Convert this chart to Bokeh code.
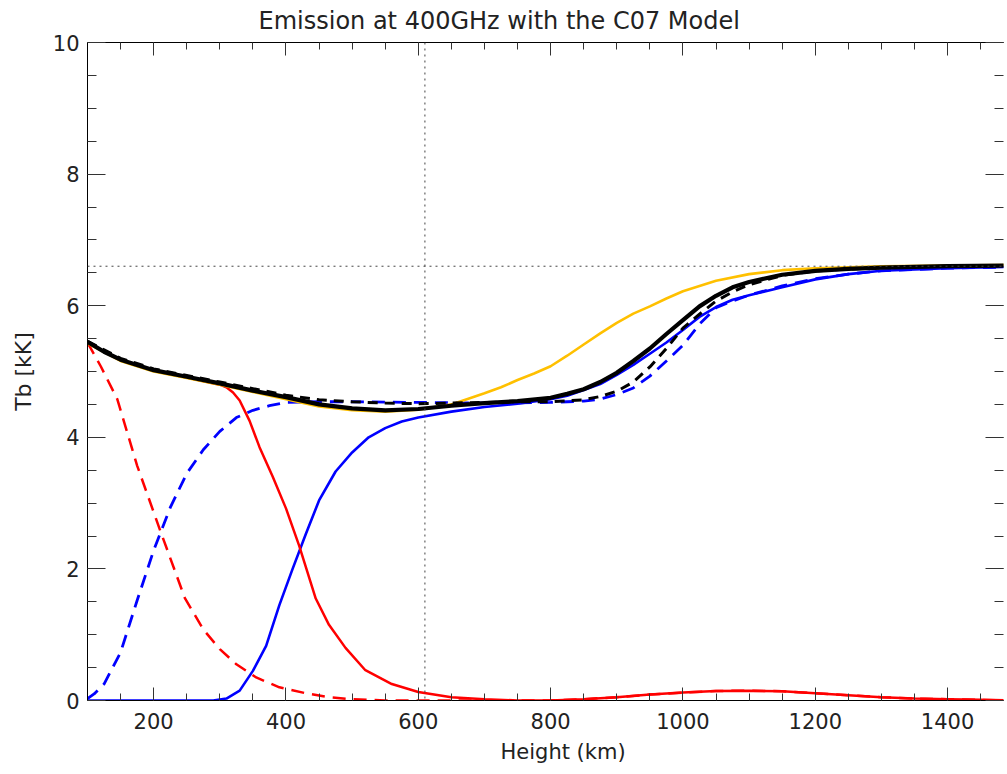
from bokeh.plotting import figure
from bokeh.models import LinearAxis, SingleIntervalTicker, Span, Title, CustomLabelingPolicy
from bokeh.embed import file_html
from bokeh.resources import INLINE

# ---- data ----
x_black_solid = [100,125,150,200,250,300,350,400,450,500,550,600,650,700,750,800,825,850,875,900,925,950,975,1000,1025,1050,1075,1100,1150,1200,1250,1300,1400,1500]
y_black_solid = [5.45,5.30,5.18,5.02,4.92,4.82,4.71,4.61,4.50,4.44,4.41,4.43,4.48,4.52,4.55,4.60,4.66,4.73,4.84,4.98,5.16,5.35,5.57,5.78,5.99,6.15,6.28,6.36,6.47,6.53,6.56,6.58,6.60,6.61]

x_black_dash = [100,150,200,250,300,350,400,450,500,550,600,650,700,750,800,850,875,900,925,950,975,1000,1025,1050,1075,1100,1150,1200,1300,1400,1500]
y_black_dash = [5.46,5.20,5.04,4.94,4.84,4.74,4.64,4.57,4.54,4.52,4.51,4.52,4.53,4.54,4.54,4.57,4.62,4.70,4.84,5.07,5.35,5.66,5.87,6.07,6.21,6.32,6.46,6.53,6.58,6.60,6.61]

x_orange = [100,150,200,250,300,350,400,450,500,550,600,650,700,725,750,775,800,825,850,875,900,925,950,975,1000,1050,1100,1150,1200,1300,1400,1500]
y_orange = [5.43,5.16,5.00,4.90,4.80,4.69,4.58,4.47,4.41,4.39,4.42,4.50,4.67,4.76,4.87,4.97,5.08,5.24,5.41,5.58,5.74,5.88,5.99,6.11,6.22,6.38,6.48,6.54,6.57,6.60,6.61,6.62]

x_blue_solid = [100,150,200,250,290,310,330,350,370,390,410,430,450,475,500,525,550,575,600,650,700,750,800,825,850,875,900,925,950,975,1000,1025,1050,1075,1100,1150,1200,1250,1300,1400,1500]
y_blue_solid = [0,0,0,0,0,0.03,0.15,0.45,0.83,1.45,2.00,2.53,3.04,3.48,3.77,4.00,4.14,4.24,4.30,4.39,4.46,4.51,4.58,4.63,4.72,4.81,4.95,5.10,5.27,5.44,5.63,5.83,5.98,6.09,6.16,6.28,6.40,6.48,6.53,6.57,6.59]

x_blue_dash = [100,110,125,150,175,200,225,250,275,300,325,350,375,400,450,500,600,700,800,850,875,900,925,950,975,1000,1025,1050,1075,1100,1150,1200,1250,1300,1400,1500]
y_blue_dash = [0.03,0.10,0.25,0.73,1.52,2.28,2.93,3.45,3.81,4.09,4.30,4.41,4.48,4.53,4.54,4.54,4.53,4.52,4.53,4.55,4.58,4.65,4.75,4.93,5.16,5.40,5.72,5.97,6.07,6.16,6.30,6.41,6.48,6.53,6.57,6.59]

x_red_solid = [100,150,200,250,300,310,320,330,345,360,380,400,420,445,465,490,520,560,600,650,700,750,800,850,900,950,1000,1050,1100,1150,1200,1250,1300,1350,1400,1450,1500]
y_red_solid = [5.44,5.17,5.01,4.91,4.80,4.76,4.68,4.56,4.25,3.85,3.40,2.92,2.35,1.55,1.15,0.80,0.46,0.25,0.13,0.05,0.02,0.0,0.0,0.02,0.05,0.09,0.12,0.145,0.15,0.14,0.11,0.08,0.05,0.03,0.02,0.01,0.0]

x_red_dash = [100,120,145,175,210,247,275,300,325,355,390,430,465,500,550,600,700,800,850,900,950,1000,1050,1100,1150,1200,1250,1300,1350,1400,1450,1500]
y_red_dash = [5.44,5.08,4.58,3.57,2.58,1.56,1.08,0.78,0.55,0.35,0.20,0.11,0.05,0.02,0.0,0.0,0.0,0.0,0.02,0.05,0.09,0.12,0.145,0.15,0.14,0.11,0.08,0.05,0.03,0.02,0.01,0.0]

v_line_height = 610
h_line_tb = 6.6

FONT = "DejaVu Sans"
TXT = "#222222"

p = figure(width=1007, height=774, x_range=(100, 1484.5), y_range=(0, 10),
           output_backend="svg", toolbar_location=None,
           min_border_left=87, min_border_right=0, min_border_top=40, min_border_bottom=74,
           y_axis_label="Tb [kK]")
p.outline_line_color = None
p.grid.visible = False
p.background_fill_color = "white"
p.border_fill_color = "white"

p.title.text = "Emission at 400GHz with the C07 Model"
p.title.align = "left"
p.title.offset = 171
p.title.standoff = 8
p.title.text_font = FONT
p.title.text_font_size = "24px"
p.title.text_font_style = "normal"
p.title.text_color = TXT

xt = SingleIntervalTicker(interval=200, num_minor_ticks=4)
yt = SingleIntervalTicker(interval=2, num_minor_ticks=4)

hide_labels = CustomLabelingPolicy(code="""
const all = [...indices];
for (const i of all) indices.unset(i);
return indices;
""")

def style_axis(ax, tin, tmin, labels=True):
    ax.axis_line_color = "black"
    ax.axis_line_width = 1
    ax.major_tick_in = tin
    ax.major_tick_out = 0
    ax.minor_tick_in = tmin
    ax.minor_tick_out = 0
    ax.major_tick_line_color = "#333333"
    ax.minor_tick_line_color = "#333333"
    if labels:
        ax.major_label_text_font = FONT
        ax.major_label_text_font_size = "21px"
        ax.major_label_text_color = TXT
        ax.axis_label_text_font = FONT
        ax.axis_label_text_font_size = "21px"
        ax.axis_label_text_font_style = "normal"
        ax.axis_label_text_color = TXT
    else:
        ax.major_label_policy = hide_labels
        ax.major_label_text_font_size = "1px"
        ax.major_label_standoff = 0
        ax.axis_label = None

p.xaxis.ticker = xt
p.yaxis.ticker = yt
style_axis(p.xaxis[0], 13, 7)
style_axis(p.yaxis[0], 18, 9)
p.xaxis[0].major_label_standoff = 12
p.yaxis[0].major_label_standoff = 8
p.yaxis[0].axis_label_standoff = 14
p.yaxis[0].axis_label_text_font_size = "22px"

top = LinearAxis(ticker=xt)
style_axis(top, 13, 7, labels=False)
p.add_layout(top, "above")
right = LinearAxis(ticker=yt)
style_axis(right, 18, 9, labels=False)
right.axis_line_color = None
p.add_layout(right, "right")

xlabel = Title(text="Height (km)", align="left", offset=413, text_font=FONT,
               text_font_size="21px", text_font_style="normal", text_color=TXT,
               standoff=12)
p.add_layout(xlabel, "below")

# curves
p.line(x_red_dash, y_red_dash, line_color="#ff0000", line_width=2.5, line_dash="13 8")
p.line(x_blue_dash, y_blue_dash, line_color="#0000ff", line_width=2.8, line_dash="13 8")
p.line(x_blue_solid, y_blue_solid, line_color="#0000ff", line_width=2.6)
p.line(x_red_solid, y_red_solid, line_color="#ff0000", line_width=2.5)
p.line(x_orange, y_orange, line_color="#ffc000", line_width=2.6)
p.line(x_black_solid, y_black_solid, line_color="black", line_width=4.2)
p.line(x_black_dash, y_black_dash, line_color="black", line_width=3, line_dash="10 7")

p.add_layout(Span(location=v_line_height, dimension="height", line_color="#444444",
                  line_width=1, line_dash="2 4"))
p.add_layout(Span(location=h_line_tb, dimension="width", line_color="#444444",
                  line_width=1, line_dash="2 4"))

open("out.html", "w").write(file_html(p, INLINE))
